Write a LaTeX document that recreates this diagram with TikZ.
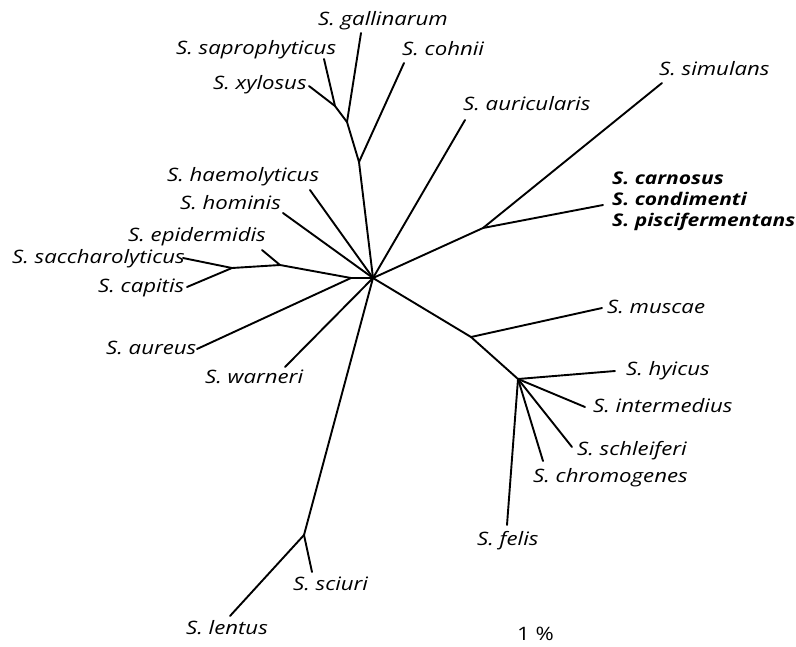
\documentclass[tikz,border=0pt]{standalone}
\usepackage{fontspec}
\setmainfont{Open Sans}[FakeStretch=1.2]
\begin{document}
\begin{tikzpicture}[x=1pt,y=-1pt,
  branch/.style={line width=1.9pt,line cap=round,line join=round},
  lab/.style={anchor=base west,inner sep=0pt,font=\fontsize{18.5}{20}\selectfont\itshape},
  blab/.style={lab,font=\fontsize{17.5}{20}\selectfont\bfseries\itshape}]
\useasboundingbox (0,0) rectangle (796,646);
% internal nodes
\coordinate (hub) at (373,278);
\coordinate (t1) at (359,162);
\coordinate (t2) at (347,122);
\coordinate (t3) at (335,106);
\coordinate (j3) at (483,228);
\coordinate (l1) at (351,278);
\coordinate (l2) at (280,265);
\coordinate (l3) at (232,268);
\coordinate (sc) at (304,535);
\coordinate (m1) at (471,337);
\coordinate (m2) at (518,379);
% tips
\coordinate (gal) at (361,33);
\coordinate (sap) at (324,59);
\coordinate (xyl) at (309,86);
\coordinate (coh) at (404,63);
\coordinate (aur) at (465,120);
\coordinate (sim) at (662,83);
\coordinate (car) at (603,205);
\coordinate (sac) at (183,258);
\coordinate (cap) at (187,287);
\coordinate (epi) at (262,250);
\coordinate (aus) at (197,349);
\coordinate (hae) at (310,190);
\coordinate (hom) at (283,213);
\coordinate (war) at (285,367);
\coordinate (sci) at (312,572);
\coordinate (len) at (230,616);
\coordinate (mus) at (602,308);
\coordinate (hyi) at (615,371);
\coordinate (int) at (585,407);
\coordinate (sch) at (572,447);
\coordinate (chr) at (543,461);
\coordinate (fel) at (507,525);
% branches
\draw[branch] (hub) -- (t1) -- (t2) -- (t3) -- (xyl);
\draw[branch] (t3) -- (sap);
\draw[branch] (t2) -- (gal);
\draw[branch] (t1) -- (coh);
\draw[branch] (hub) -- (aur);
\draw[branch] (hub) -- (j3) -- (sim);
\draw[branch] (j3) -- (car);
\draw[branch] (hub) -- (l1) -- (l2) -- (l3) -- (sac);
\draw[branch] (l3) -- (cap);
\draw[branch] (l2) -- (epi);
\draw[branch] (l1) -- (aus);
\draw[branch] (hub) -- (hae);
\draw[branch] (hub) -- (hom);
\draw[branch] (hub) -- (war);
\draw[branch] (hub) -- (sc) -- (len);
\draw[branch] (sc) -- (sci);
\draw[branch] (hub) -- (m1) -- (mus);
\draw[branch] (m1) -- (m2) -- (hyi);
\draw[branch] (m2) -- (int);
\draw[branch] (m2) -- (sch);
\draw[branch] (m2) -- (chr);
\draw[branch] (m2) -- (fel);
% labels
\node[lab] (Lgal) at (318,25) {S. gallinarum};
\node[lab] (Lsap) at (176,54) {S. saprophyticus};
\node[lab] (Lcoh) at (402,55) {S. cohnii};
\node[lab] (Lxyl) at (213,89) {S. xylosus};
\node[lab] (Laur) at (463,110) {S. auricularis};
\node[lab] (Lsim) at (659,75) {S. simulans};
\node[blab] (Lcar) at (612,184) {S. carnosus};
\node[blab] (Lcon) at (612,205) {S. condimenti};
\node[blab] (Lpis) at (612,226) {S. piscifermentans};
\node[lab] (Lhae) at (167,181) {S. haemolyticus};
\node[lab] (Lhom) at (180,209) {S. hominis};
\node[lab] (Lepi) at (128,241) {S. epidermidis};
\node[lab] (Lsac) at (12,263) {S. saccharolyticus};
\node[lab] (Lcap) at (98,292) {S. capitis};
\node[lab] (Laus) at (106,354) {S. aureus};
\node[lab] (Lwar) at (205,383) {S. warneri};
\node[lab] (Lmus) at (607,313) {S. muscae};
\node[lab] (Lhyi) at (626,375) {S. hyicus};
\node[lab] (Lint) at (593,412) {S. intermedius};
\node[lab] (Lsch) at (577,455) {S. schleiferi};
\node[lab] (Lchr) at (533,482) {S. chromogenes};
\node[lab] (Lfel) at (477,545) {S. felis};
\node[lab] (Lsci) at (293,590) {S. sciuri};
\node[lab] (Llen) at (186,634) {S. lentus};
\node[lab,font=\fontsize{18.5}{20}\selectfont\upshape] (Lscale) at (517,640) {1 \%};
\end{tikzpicture}
\end{document}
